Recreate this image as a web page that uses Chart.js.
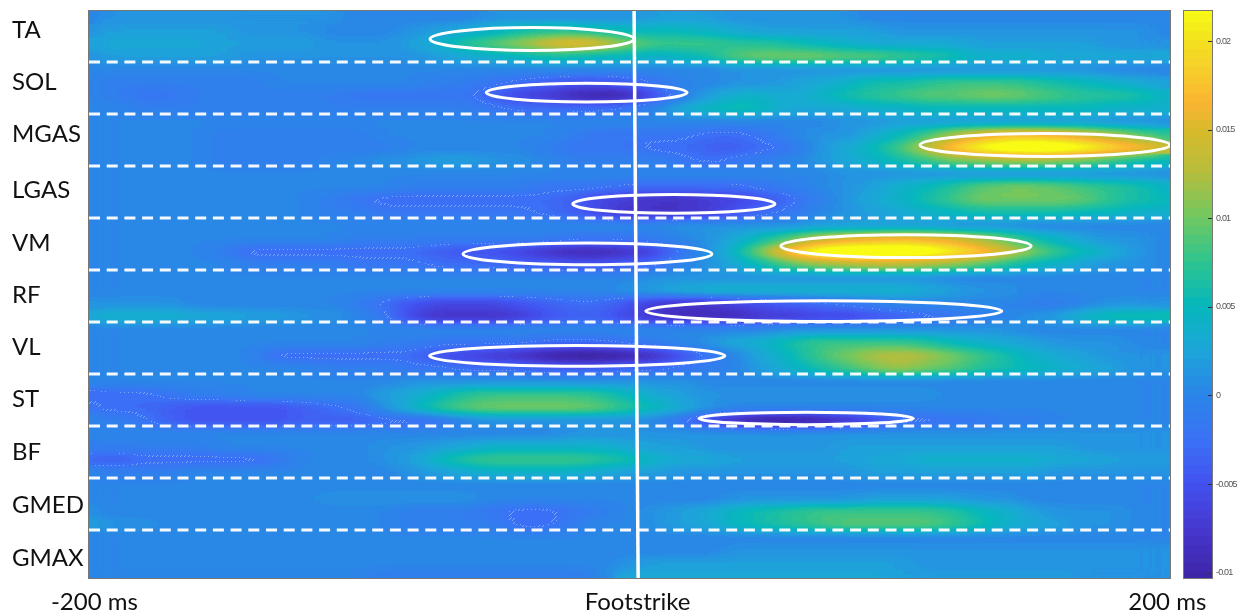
<!DOCTYPE html>
<html>
<head>
<meta charset="utf-8">
<script src="https://cdn.jsdelivr.net/npm/chart.js@4"></script>
<style>
  html, body { margin: 0; padding: 0; background: #fff; overflow: hidden; }
  canvas { position: absolute; top: 0; }
</style>
</head>
<body>
<canvas id="heat" width="1249" height="614" style="left:0"></canvas>
<canvas id="bar" width="74" height="614" style="left:1175px"></canvas>
<script>
// values are in units of 0.001, four bands per muscle
const timesMs = [-200,-190,-180,-170,-160,-150,-140,-130,-120,-110,-100,-90,-80,-70,-60,-50,-40,-30,-20,-10,0,10,20,30,40,50,60,70,80,90,100,110,120,130,140,150,160,170,180,190,200];
const muscles = ['TA','SOL','MGAS','LGAS','VM','RF','VL','ST','BF','GMED','GMAX'];
const TA = [
  [0,1,1,1,1,1,1,1,1,1, 0,0,0,0,0,1,1,1,1,1, 1,2,2,2,1,1,1,1,1,0, 0,0,0,0,0,0,0,0,0,0, 0],
  [1,2,2,2,2,2,1,1,1,0, 0,0,1,2,3,4,6,7,7,6, 5,5,5,4,3,2,2,2,2,2, 1,1,1,1,1,1,1,1,1,1, 0],
  [2,3,3,3,3,2,2,2,2,1, 1,1,2,4,7,9,11,14,16,14, 10,8,8,8,7,7,6,5,4,3, 3,3,3,2,2,2,2,2,1,1, 1],
  [1,2,2,2,2,2,1,1,1,1, 1,1,1,2,3,4,5,6,6,5, 5,4,5,6,9,10,10,10,9,9, 8,7,6,4,4,4,3,3,3,3, 3]
];
const SOL = [
  [0,0,0,0,0,0,0,0,0,0, 0,0,0,0,0,0,0,0,0,0, 0,0,0,0,1,1,1,1,1,1, 1,1,1,1,1,1,1,1,0,0, 0],
  [0,-1,-1,-1,-1,-1,-1,0,0,0, 0,0,0,-1,-1,-2,-3,-4,-5,-5, -4,-2,0,0,1,1,2,3,4,6, 6,7,8,8,8,7,6,5,4,3, 2],
  [0,-1,-2,-2,-1,-1,-1,-1,-1,-1, -2,-2,-2,-2,-2,-4,-6,-7,-9,-10, -9,-5,-1,2,4,4,3,4,6,7, 8,9,9,10,10,9,8,7,7,6, 4],
  [0,0,-1,-1,-1,-1,-1,-1,-1,-1, -1,-1,-1,-1,-1,-2,-3,-3,-3,-3, -2,0,3,5,6,5,3,3,3,4, 4,5,5,5,5,5,5,5,4,4, 4]
];
const MGAS = [
  [0,0,0,0,0,0,0,0,0,0, 0,0,0,0,0,0,0,0,0,0, 0,0,0,0,0,0,0,0,1,1, 2,2,2,2,2,2,2,2,1,1, 1],
  [0,0,0,0,0,-1,-1,-1,-1,-1, -1,0,0,0,0,0,0,0,-1,-2, -2,-2,-2,-3,-3,-2,0,1,1,3, 5,8,12,15,17,17,16,14,12,9, 7],
  [0,0,0,0,0,-1,-1,-1,-1,-1, -1,-1,0,0,0,0,0,-1,-2,-2, -2,-3,-3,-4,-4,-3,-2,1,3,5, 8,13,18,22,24,25,24,22,19,17, 14],
  [0,0,0,0,0,-1,-1,-1,-1,0, 0,1,1,2,2,1,1,0,-1,-1, -1,-1,-2,-3,-2,-1,0,1,3,4, 6,8,10,11,12,12,11,10,8,6, 5]
];
const LGAS = [
  [0,0,0,0,0,0,0,0,0,0, 0,0,0,0,0,0,0,0,0,0, 0,0,0,0,0,0,0,0,1,1, 1,1,1,1,1,1,1,1,1,1, 1],
  [0,0,0,0,0,0,0,0,0,0, 0,0,-1,-1,-1,-1,-1,-2,-2,-2, -3,-3,-3,-3,-3,-2,-1,0,1,2, 4,5,7,9,10,10,9,8,7,6, 4],
  [0,0,0,0,0,0,0,0,0,-1, -2,-3,-3,-3,-3,-3,-3,-3,-4,-6, -7,-8,-8,-7,-6,-5,-3,-1,1,3, 4,6,8,10,10,10,10,9,7,6, 5],
  [0,0,0,0,0,0,0,0,0,-1, -1,-2,-2,-2,-2,-2,-2,-3,-4,-6, -8,-8,-8,-7,-5,-3,-2,0,1,2, 3,4,5,6,6,6,6,5,5,4, 4]
];
const VM = [
  [0,0,0,0,0,0,0,0,0,0, 0,0,0,0,0,0,0,0,0,0, 0,0,1,1,1,1,1,2,2,2, 2,2,1,1,1,0,0,0,0,0, 0],
  [0,0,0,0,0,0,0,0,0,0, -1,-1,-1,-1,-1,-1,-1,-1,-2,-2, -2,-1,0,1,3,6,9,13,15,16, 17,16,15,12,9,6,4,2,1,1, 0],
  [0,0,0,0,0,-1,-3,-3,-3,-3, -3,-3,-3,-4,-5,-5,-6,-8,-9,-9, -8,-6,-2,1,5,11,18,23,25,25, 25,24,21,18,14,10,7,5,3,1, 0],
  [0,0,0,0,0,0,-1,-1,-1,-1, -2,-2,-2,-3,-3,-3,-4,-4,-5,-5, -4,-3,0,1,3,6,9,11,12,13, 13,12,11,9,7,5,4,2,1,1, 0]
];
const RF = [
  [0,0,0,0,0,0,0,0,0,0, 0,0,0,0,0,0,0,0,0,0, 0,1,1,1,1,1,1,1,1,1, 1,1,0,0,0,0,0,0,0,0, 0],
  [0,0,0,0,0,0,0,0,0,0, 0,0,0,0,0,0,0,0,0,0, 1,2,3,4,4,4,4,4,4,4, 4,3,2,1,1,0,0,0,0,0, 0],
  [1,1,1,1,0,0,0,0,0,0, -1,-3,-5,-6,-6,-6,-5,-4,-3,-3, -5,-7,-8,-8,-6,-5,-4,-3,-2,-1, 0,0,0,0,0,-1,-1,0,1,1, 1],
  [3,4,4,4,3,3,2,2,1,1, 0,-2,-6,-8,-8,-8,-7,-5,-4,-4, -6,-8,-9,-9,-9,-7,-7,-6,-6,-5, -4,-3,-2,-1,0,1,2,5,6,6, 6]
];
const VL = [
  [0,0,0,0,0,0,0,0,0,0, 0,0,0,0,0,0,0,0,0,0, 0,0,0,0,0,0,1,1,1,1, 1,1,1,1,1,0,0,0,0,0, 0],
  [0,0,0,0,0,0,0,0,0,0, 0,-1,-1,-2,-2,-2,-2,-3,-3,-3, -2,-1,0,1,3,4,6,8,8,8, 8,7,5,4,3,2,1,1,1,0, 0],
  [0,0,0,0,0,0,0,-3,-3,-3, -3,-3,-3,-5,-6,-7,-8,-10,-11,-11, -10,-8,-5,-2,0,3,5,8,10,12, 13,12,10,8,6,4,3,2,1,1, 1],
  [0,0,0,0,0,0,0,0,0,-1, -1,-1,-2,-2,-3,-3,-3,-4,-4,-4, -3,-3,-2,-1,0,2,4,6,8,10, 12,10,9,7,6,5,4,3,2,1, 1]
];
const ST = [
  [0,0,0,0,0,0,0,0,0,0, 0,0,1,1,1,1,1,1,1,1, 1,1,1,0,0,0,0,0,0,0, 0,0,0,0,0,0,0,0,0,0, 0],
  [-3,-3,-3,-2,-1,-1,0,0,0,0, 0,2,3,5,7,8,8,8,8,7, 5,3,2,1,1,1,1,1,1,1, 1,1,0,0,0,0,0,0,0,0, 0],
  [-2,-3,-3,-4,-5,-5,-5,-5,-4,-3, -2,1,4,7,9,10,10,10,10,9, 7,5,3,1,0,0,0,0,0,0, 0,0,0,0,0,0,0,0,0,0, 0],
  [0,-1,-2,-4,-5,-5,-5,-5,-4,-4, -4,-3,-3,-2,0,1,1,1,1,1, 1,0,-2,-6,-9,-11,-11,-10,-8,-6, -3,-3,-2,-2,-1,-1,0,0,0,0, 0]
];
const BF = [
  [0,0,0,0,0,0,0,0,0,0, 0,0,0,0,0,0,0,0,1,1, 1,1,1,1,1,1,1,1,1,1, 1,1,1,1,1,1,1,1,1,1, 1],
  [-1,-1,-1,-1,-1,0,0,0,0,0, 0,1,1,2,3,4,4,4,4,4, 3,2,2,1,1,1,1,1,2,2, 2,2,2,2,2,2,2,1,1,1, 1],
  [-3,-4,-3,-3,-3,-3,-3,-2,0,0, 0,1,2,5,7,8,8,8,8,7, 6,4,3,3,2,2,2,2,2,3, 3,4,4,4,4,4,3,3,2,2, 2],
  [0,-1,-1,-1,0,0,0,0,0,0, 0,0,1,2,3,4,4,4,4,3, 2,2,1,1,1,1,1,1,1,2, 2,2,2,2,2,2,1,1,1,1, 1]
];
const GMED = [
  [0,0,0,0,0,0,0,0,0,0, 0,0,0,0,0,0,0,0,0,0, 0,0,0,0,0,0,0,0,0,0, 0,0,0,0,0,0,0,0,0,0, 0],
  [0,0,0,0,0,0,0,0,0,1, 1,1,1,1,1,0,0,0,0,0, 0,0,0,0,1,1,1,1,1,2, 2,2,2,1,1,0,0,0,0,0, 0],
  [1,0,0,0,0,0,0,0,0,0, 0,0,-1,-1,-1,-2,-3,-3,-2,-1, 0,1,2,3,5,6,7,8,8,8, 8,8,7,5,4,2,1,1,1,0, 0],
  [2,1,1,0,0,0,0,0,0,0, 0,0,-1,-1,-1,-1,-3,-3,-1,0, 0,1,2,3,5,6,7,8,9,9, 9,9,8,6,4,3,2,1,1,0, 0]
];
const GMAX = [
  [0,0,0,0,0,0,0,0,0,0, 0,0,0,0,0,0,0,0,0,0, 0,0,0,0,0,0,0,0,0,0, 0,0,0,0,0,0,0,0,0,0, 0],
  [0,0,0,0,0,0,0,0,0,0, 0,0,0,0,0,0,0,0,0,0, 0,0,0,0,1,1,1,1,1,1, 1,1,1,1,1,1,1,1,1,1, 1],
  [0,0,0,0,0,0,0,0,0,0, 0,0,0,0,0,0,0,0,0,0, 1,2,2,2,2,2,2,2,2,2, 2,1,1,1,1,1,1,1,1,1, 1],
  [0,0,0,0,0,0,0,0,0,0, 0,-1,-1,-1,-1,-1,-1,-1,-1,0, 3,3,3,3,3,3,3,3,3,3, 2,2,2,2,2,2,2,1,1,1, 1]
];
const muscleGrids = [TA, SOL, MGAS, LGAS, VM, RF, VL, ST, BF, GMED, GMAX];

// [start ms, end ms, row centre, half height in rows]
const windows = [
  [-73.8, 1.7, 0.558, 0.22],
  [-53, 21.3, 1.587, 0.18],
  [107.5, 200, 2.596, 0.22],
  [-21, 53.8, 3.73, 0.18],
  [-61.6, 30.5, 4.69, 0.21],
  [56, 148.6, 4.54, 0.22],
  [6, 137.8, 5.79, 0.2],
  [-74, 35.3, 6.65, 0.2],
  [25.7, 105, 7.855, 0.12]
];
const footstrikeMs = [1.7, 3.2];
const dividers = [1, 2, 3, 4, 5, 6, 7, 8, 9, 10];
const xTickValues = [-198, 3, 199];
const xTickLabels = ['-200 ms', 'Footstrike', '200 ms'];
const yTickValues = [0.385, 1.385, 2.385, 3.46, 4.48, 5.48, 6.48, 7.48, 8.5, 9.52, 10.54];

const colorTicks = [-0.01, -0.005, 0, 0.005, 0.01, 0.015, 0.02];
const colorValues = [-10.3, -8, -5, -2.5, 0, 2.5, 5, 7.5, 10, 12.5, 15, 16.5, 18.5, 20, 21.7];
const colorHex = ['#3e26a8', '#4533c9', '#4352f0', '#3a72f5', '#2a85e8', '#1da5d8', '#05b8bc', '#2fc38e', '#6fc860', '#b5bd3c', '#d8ba2a', '#fbb431', '#f6d02a', '#f2e21e', '#f9fb15'];
const contourLevel = -2.5;

function hexRgb(h) {
  return [parseInt(h.slice(1, 3), 16), parseInt(h.slice(3, 5), 16), parseInt(h.slice(5, 7), 16)];
}

function rgbFor(v) {
  if (v <= colorValues[0]) return hexRgb(colorHex[0]);
  for (let i = 1; i < colorValues.length; i++) {
    if (v <= colorValues[i]) {
      const t = (v - colorValues[i - 1]) / (colorValues[i] - colorValues[i - 1]);
      const a = hexRgb(colorHex[i - 1]), b = hexRgb(colorHex[i]);
      return a.map((c, k) => Math.round(c + (b[k] - c) * t));
    }
  }
  return hexRgb(colorHex[colorHex.length - 1]);
}

// cells go on the canvas as grey = value, the overlay plugin maps them to the colour scale
const greyMin = -12, greyMax = 30;
const greyOf = v => Math.round((v - greyMin) / (greyMax - greyMin) * 255);
const valueOf = g => greyMin + g / 255 * (greyMax - greyMin);
const greyCss = v => { const g = greyOf(v); return 'rgb(' + g + ',' + g + ',' + g + ')'; };
const lut = [];
for (let g = 0; g < 256; g++) {
  // half unit contour bands, like the colour bar
  lut.push(rgbFor((Math.floor(valueOf(g) * 2) + 0.5) / 2));
}

const datasets = [];
muscleGrids.forEach((grid, m) => {
  grid.forEach((band, s) => {
    datasets.push({
      data: timesMs.map((t, i) => ({ x: t, y: [m + s / 4, m + (s + 1) / 4] })),
      backgroundColor: band.map(greyCss),
      grouped: false,
      barPercentage: 1,
      categoryPercentage: 1,
      inflateAmount: 1,
      borderWidth: 0
    });
  });
});

const overlay = {
  id: 'overlay',
  afterDatasetsDraw(chart) {
    const { ctx, chartArea: a, scales: { x, y } } = chart;
    const left = Math.round(a.left), top = Math.round(a.top);
    const w = Math.round(a.right - a.left), h = Math.round(a.bottom - a.top);

    // blur three times wider than tall, the cells are about twice as wide as tall
    const off = document.createElement('canvas');
    off.width = Math.round(w / 3);
    off.height = h;
    const o = off.getContext('2d');
    o.drawImage(chart.canvas, left, top, w, h, 0, 0, off.width, h);
    o.filter = 'blur(4px)';
    o.drawImage(chart.canvas, left, top, w, h, 0, 0, off.width, h);

    const big = document.createElement('canvas');
    big.width = w;
    big.height = h;
    const b = big.getContext('2d', { willReadFrequently: true });
    b.imageSmoothingEnabled = true;
    b.imageSmoothingQuality = 'high';
    b.drawImage(off, 0, 0, w, h);
    const img = b.getImageData(0, 0, w, h);
    const px = img.data;
    const contourGrey = greyOf(contourLevel);
    for (let i = 0; i < px.length; i += 4) {
      const g = px[i];
      const c = lut[g];
      const n = i / 4;
      const dot = g === contourGrey && (n % w + Math.floor(n / w)) % 4 === 0;
      px[i] = dot ? Math.round(c[0] + (255 - c[0]) * 0.35) : c[0];
      px[i + 1] = dot ? Math.round(c[1] + (255 - c[1]) * 0.35) : c[1];
      px[i + 2] = dot ? Math.round(c[2] + (255 - c[2]) * 0.35) : c[2];
      px[i + 3] = 255;
    }
    ctx.putImageData(img, left, top);

    ctx.save();
    ctx.beginPath();
    ctx.rect(a.left, a.top, w, h);
    ctx.clip();

    ctx.strokeStyle = 'rgba(255,255,255,0.95)';
    ctx.lineWidth = 3;
    ctx.setLineDash([11, 6.7]);
    dividers.forEach(d => {
      ctx.beginPath();
      ctx.moveTo(a.left, y.getPixelForValue(d));
      ctx.lineTo(a.right, y.getPixelForValue(d));
      ctx.stroke();
    });
    ctx.setLineDash([]);
    ctx.strokeStyle = '#fff';
    ctx.lineWidth = 3;
    windows.forEach(([start, end, row, half]) => {
      const x0 = x.getPixelForValue(start), x1 = x.getPixelForValue(end);
      const cy = y.getPixelForValue(row);
      const ry = y.getPixelForValue(row + half) - cy;
      ctx.beginPath();
      ctx.ellipse((x0 + x1) / 2, cy, (x1 - x0) / 2, ry, 0, 0, Math.PI * 2);
      ctx.stroke();
    });
    ctx.lineWidth = 3.5;
    ctx.beginPath();
    ctx.moveTo(x.getPixelForValue(footstrikeMs[0]), a.top);
    ctx.lineTo(x.getPixelForValue(footstrikeMs[1]), a.bottom);
    ctx.stroke();
    ctx.restore();

    ctx.save();
    ctx.strokeStyle = '#777';
    ctx.lineWidth = 1;
    ctx.strokeRect(a.left - 0.5, a.top - 0.5, w + 1, h + 1);
    ctx.restore();
  }
};

new Chart(document.getElementById('heat'), {
  type: 'bar',
  data: { datasets },
  plugins: [overlay],
  options: {
    responsive: false,
    animation: false,
    parsing: { xAxisKey: 'x', yAxisKey: 'y' },
    layout: { autoPadding: false, padding: { left: 12, top: 11, right: 79, bottom: 0 } },
    plugins: { legend: { display: false }, tooltip: { enabled: false } },
    scales: {
      x: {
        type: 'linear',
        offset: false,
        min: -200,
        max: 200,
        grid: { display: false, drawTicks: false },
        border: { display: false },
        afterFit: s => { s.height = 36; s.paddingLeft = 0; s.paddingRight = 0; },
        afterBuildTicks: s => { s.ticks = xTickValues.map(value => ({ value })); },
        ticks: {
          autoSkip: false,
          maxRotation: 0,
          padding: 10,
          color: '#111',
          font: { family: 'Lato', size: 24 },
          callback: (v, i) => xTickLabels[i]
        }
      },
      y: {
        type: 'linear',
        reverse: true,
        min: 1 / 52,
        max: 568 / 52,
        grid: { display: false, drawTicks: false },
        border: { display: false },
        afterFit: s => { s.width = 77; s.paddingTop = 0; s.paddingBottom = 0; },
        afterBuildTicks: s => { s.ticks = yTickValues.map(value => ({ value })); },
        ticks: {
          autoSkip: false,
          crossAlign: 'far',
          color: '#111',
          font: { family: 'Lato', size: 24 },
          callback: (v, i) => muscles[i]
        }
      }
    }
  }
});

// colour bar: one floating bar per half unit of 0.001
const barDatasets = [];
for (let v = -10.5; v < 21.7; v += 0.5) {
  const c = rgbFor(v + 0.25);
  barDatasets.push({
    data: [[Math.max(v, -10.3) / 1000, Math.min(v + 0.5, 21.7) / 1000]],
    backgroundColor: 'rgb(' + c.join(',') + ')',
    grouped: false,
    barPercentage: 1,
    categoryPercentage: 1,
    inflateAmount: 1,
    borderWidth: 0
  });
}

const barFrame = {
  id: 'barFrame',
  beforeDraw(chart) {
    chart.ctx.letterSpacing = '-0.8px';
  },
  afterDatasetsDraw(chart) {
    const { ctx, chartArea: a, scales: { y } } = chart;
    ctx.save();
    ctx.strokeStyle = '#777';
    ctx.lineWidth = 1;
    ctx.strokeRect(a.left - 0.5, a.top - 0.5, a.right - a.left + 1, a.bottom - a.top + 1);
    ctx.strokeStyle = '#333';
    colorTicks.forEach(t => {
      const py = Math.round(y.getPixelForValue(t)) + 0.5;
      ctx.beginPath();
      ctx.moveTo(a.right - 4, py);
      ctx.lineTo(a.right, py);
      ctx.stroke();
    });
    ctx.restore();
  }
};

new Chart(document.getElementById('bar'), {
  type: 'bar',
  data: { labels: ['colour'], datasets: barDatasets },
  plugins: [barFrame],
  options: {
    responsive: false,
    animation: false,
    layout: { autoPadding: false, padding: { left: 9, top: 11, right: 0, bottom: 36 } },
    plugins: { legend: { display: false }, tooltip: { enabled: false } },
    scales: {
      x: { display: false },
      y: {
        position: 'right',
        min: -0.0103,
        max: 0.0217,
        grid: { display: false, drawTicks: false },
        border: { display: false },
        afterFit: s => { s.width = 37; },
        afterBuildTicks: s => { s.ticks = colorTicks.map(value => ({ value })); },
        ticks: {
          autoSkip: false,
          padding: 4,
          color: '#555',
          font: { family: 'Liberation Sans', size: 9 },
          callback: v => String(v)
        }
      }
    }
  }
});
</script>
</body>
</html>
